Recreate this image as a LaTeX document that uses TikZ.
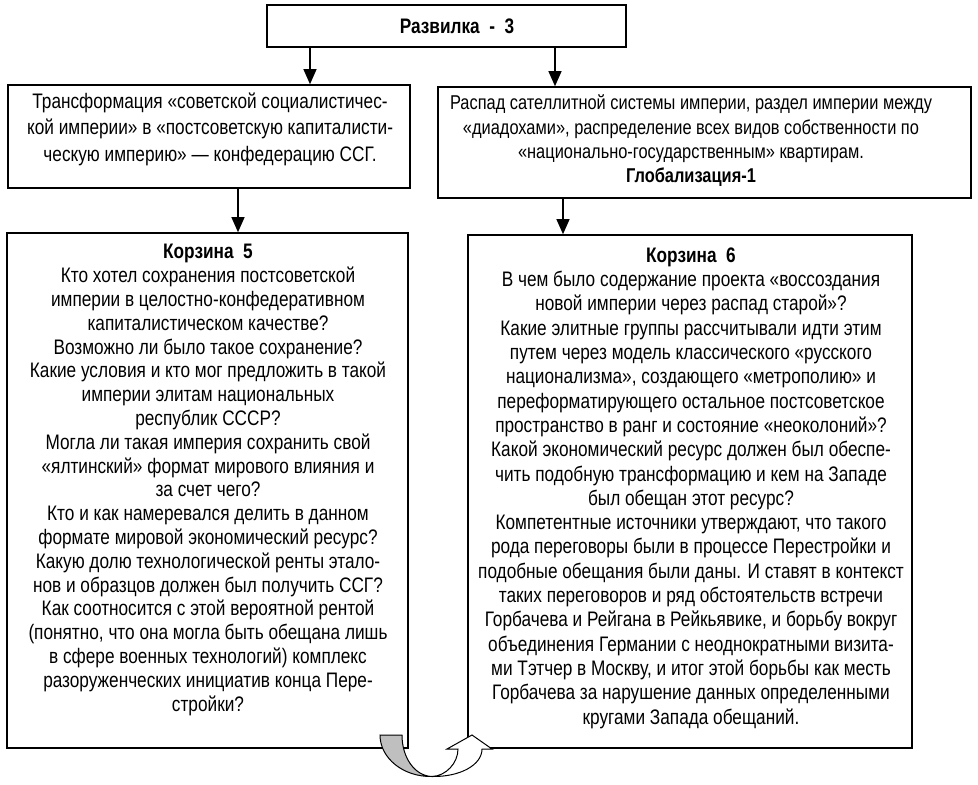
\documentclass[tikz,border=0pt]{standalone}
\usepackage{fontspec}
\setmainfont{Liberation Sans}[FakeStretch=0.82]
\usetikzlibrary{arrows.meta}
\begin{document}
\begin{tikzpicture}[x=1pt,y=-1pt,
  box/.style={draw, line width=1.6pt, inner sep=0pt},
  txt/.style={align=center, inner sep=0pt},
  fhead/.style={font=\fontsize{21}{24}\selectfont\bfseries},
  fmid/.style={font=\fontsize{21}{26.5}\selectfont},
  fmidb/.style={font=\fontsize{20}{24.3}\selectfont},
  fleft/.style={font=\fontsize{21}{23.8}\selectfont},
  fright/.style={font=\fontsize{21}{24.3}\selectfont},
  arr/.style={-{Triangle[length=15pt,width=13pt]}, line width=1.1pt},
  uturn/.style={line width=1pt, line join=miter}]
\useasboundingbox (0,0) rectangle (978,785);

% boxes
\node[box, minimum width=359pt, minimum height=42pt] (top) at (446.5,26) {};
\node[box, minimum width=402pt, minimum height=103pt] (b1) at (209,136.5) {};
\node[box, minimum width=533pt, minimum height=111pt] (b2) at (704.5,142.5) {};
\node[box, minimum width=401pt, minimum height=515pt] (k5) at (207.5,490.5) {};
\node[box, minimum width=444pt, minimum height=513pt] (k6) at (690,491.5) {};

% texts
\node[txt, fhead] (ttop) at (457,26) {Развилка\ \ -\ \ 3};
\node[txt, fmid] (tb1) at (210,129) {Трансформация «советской социалистичес-\\
кой империи» в «постсоветскую капиталисти-\\
ческую империю» — конфедерацию ССГ.};
\node[txt, fmidb] (tb2) at (691,141) {Распад сателлитной системы империи, раздел империи между\\
«диадохами», распределение всех видов собственности по\\
«национально-государственным» квартирам.\\
\textbf{Глобализация-1}};
\node[txt, fleft] (tk5) at (208,480) {\textbf{Корзина\ \ 5}\\
Кто хотел сохранения постсоветской\\
империи в целостно-конфедеративном\\
капиталистическом качестве?\\
Возможно ли было такое сохранение?\\
Какие условия и кто мог предложить в такой\\
империи элитам национальных\\
республик СССР?\\
Могла ли такая империя сохранить свой\\
«ялтинский» формат мирового влияния и\\
за счет чего?\\
Кто и как намеревался делить в данном\\
формате мировой экономический ресурс?\\
Какую долю технологической ренты этало-\\
нов и образцов должен был получить ССГ?\\
Как соотносится с этой вероятной рентой\\
(понятно, что она могла быть обещана лишь\\
в сфере военных технологий) комплекс\\
разоруженческих инициатив конца Пере-\\
стройки?};
\node[txt, fright] (tk6) at (691,488) {\textbf{Корзина\ \ 6}\\
В чем было содержание проекта «воссоздания\\
новой империи через распад старой»?\\
Какие элитные группы рассчитывали идти этим\\
путем через модель классического «русского\\
национализма», создающего «метрополию» и\\
переформатирующего остальное постсоветское\\
пространство в ранг и состояние «неоколоний»?\\
Какой экономический ресурс должен был обеспе-\\
чить подобную трансформацию и кем на Западе\\
был обещан этот ресурс?\\
Компетентные источники утверждают, что такого\\
рода переговоры были в процессе Перестройки и\\
подобные обещания были даны. И ставят в контекст\\
таких переговоров и ряд обстоятельств встречи\\
Горбачева и Рейгана в Рейкьявике, и борьбу вокруг\\
объединения Германии с неоднократными визита-\\
ми Тэтчер в Москву, и итог этой борьбы как месть\\
Горбачева за нарушение данных определенными\\
кругами Запада обещаний.};

% arrows
\coordinate (xa) at (310,0);
\coordinate (xb) at (555,0);
\coordinate (xc) at (238,0);
\coordinate (xd) at (563,0);
\draw[arr] (top.south -| xa) -- (b1.north -| xa);
\draw[arr] (top.south -| xb) -- (b2.north -| xb);
\draw[arr] (b1.south -| xc) -- (k5.north -| xc);
\draw[arr] (b2.south -| xd) -- (k6.north -| xd);

% U-turn arrow from Корзина 5 to Корзина 6
\draw[uturn, fill=black!25] (380,735) -- (402,735)
  .. controls (402,758) and (415,776) .. (432,776.5)
  .. controls (403,777) and (380,758) .. (380,735) -- cycle;
\draw[uturn, fill=white] (432,776.5)
  .. controls (446,776) and (458,763) .. (458,749)
  -- (447,749) -- (472,735) -- (492,749) -- (482,749)
  .. controls (482,765) and (460,777) .. (432,776.5) -- cycle;
\end{tikzpicture}
\end{document}
